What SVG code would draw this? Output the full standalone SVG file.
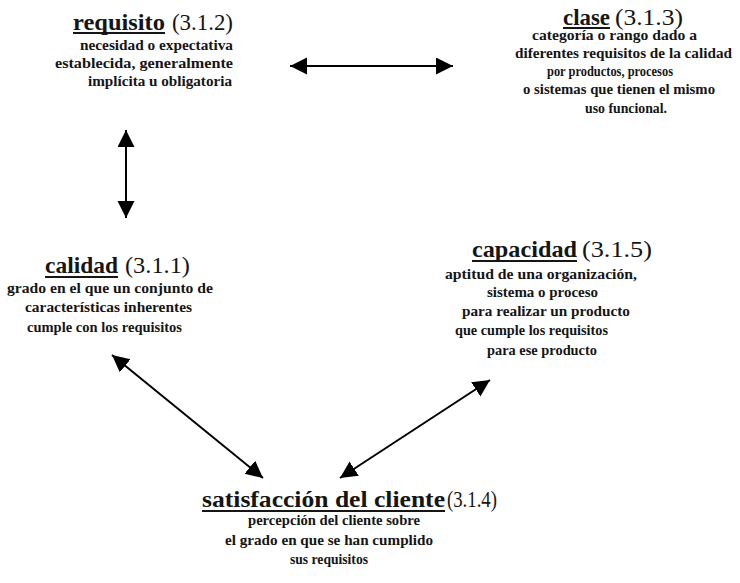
<svg xmlns="http://www.w3.org/2000/svg" width="740" height="583" viewBox="0 0 740 583">
  <style>
    text { font-family: "Liberation Serif", "Times New Roman", serif; fill: #151515; }
    .name { font-size: 24px; font-weight: bold; }
    .ref { font-size: 23px; font-weight: normal; }
    .body { font-size: 15px; font-weight: bold; }
    .ul { stroke: #151515; stroke-width: 2; }
    .link { stroke: #000; stroke-width: 2; fill: none; marker-start: url(#head); marker-end: url(#head); }
  </style>
  <defs>
    <marker id="head" markerUnits="userSpaceOnUse" markerWidth="18" markerHeight="18" refX="17" refY="8.5" orient="auto-start-reverse" viewBox="0 0 18 18">
      <path d="M0,0 L17,8.5 L0,17 Z" fill="#000"/>
    </marker>
  </defs>
  <rect width="740" height="583" fill="#fff"/>

  <!-- requisito -->
  <g id="requisito">
    <text class="name" x="73" y="30" textLength="92" lengthAdjust="spacingAndGlyphs">requisito</text>
    <line class="ul" x1="73" y1="33" x2="165" y2="33"/>
    <text class="ref" x="172" y="30" textLength="61" lengthAdjust="spacingAndGlyphs">(3.1.2)</text>
    <text class="body" x="80" y="50" textLength="153" lengthAdjust="spacingAndGlyphs">necesidad o expectativa</text>
    <text class="body" x="55" y="68" textLength="178" lengthAdjust="spacingAndGlyphs">establecida, generalmente</text>
    <text class="body" x="88" y="86" textLength="144" lengthAdjust="spacingAndGlyphs">implícita u obligatoria</text>
  </g>

  <!-- clase -->
  <g id="clase">
    <text class="name" x="563" y="25" textLength="47" lengthAdjust="spacingAndGlyphs">clase</text>
    <line class="ul" x1="563" y1="28" x2="610" y2="28"/>
    <text class="ref" x="615" y="25" textLength="68" lengthAdjust="spacingAndGlyphs">(3.1.3)</text>
    <text class="body" x="532" y="40" textLength="165" lengthAdjust="spacingAndGlyphs">categoría o rango dado a</text>
    <text class="body" x="515" y="58" textLength="217" lengthAdjust="spacingAndGlyphs">diferentes requisitos de la calidad</text>
    <text class="body" x="547" y="76" textLength="126" lengthAdjust="spacingAndGlyphs">por productos, procesos</text>
    <text class="body" x="523" y="94" textLength="192" lengthAdjust="spacingAndGlyphs">o sistemas que tienen el mismo</text>
    <text class="body" x="585" y="113" textLength="82" lengthAdjust="spacingAndGlyphs">uso funcional.</text>
  </g>

  <!-- calidad -->
  <g id="calidad">
    <text class="name" x="45" y="273" textLength="73" lengthAdjust="spacingAndGlyphs">calidad</text>
    <line class="ul" x1="45" y1="277" x2="118" y2="277"/>
    <text class="ref" x="125" y="273" textLength="65" lengthAdjust="spacingAndGlyphs">(3.1.1)</text>
    <text class="body" x="7" y="293" textLength="206" lengthAdjust="spacingAndGlyphs">grado en el que un conjunto de</text>
    <text class="body" x="25" y="312" textLength="167" lengthAdjust="spacingAndGlyphs">características inherentes</text>
    <text class="body" x="27" y="332" textLength="155" lengthAdjust="spacingAndGlyphs">cumple con los requisitos</text>
  </g>

  <!-- capacidad -->
  <g id="capacidad">
    <text class="name" x="472" y="257" textLength="105" lengthAdjust="spacingAndGlyphs">capacidad</text>
    <line class="ul" x1="472" y1="261" x2="577" y2="261"/>
    <text class="ref" x="582" y="257" textLength="70" lengthAdjust="spacingAndGlyphs">(3.1.5)</text>
    <text class="body" x="445" y="279" textLength="192" lengthAdjust="spacingAndGlyphs">aptitud de una organización,</text>
    <text class="body" x="487" y="297" textLength="111" lengthAdjust="spacingAndGlyphs">sistema o proceso</text>
    <text class="body" x="462" y="316" textLength="168" lengthAdjust="spacingAndGlyphs">para realizar un producto</text>
    <text class="body" x="455" y="335" textLength="153" lengthAdjust="spacingAndGlyphs">que cumple los requisitos</text>
    <text class="body" x="487" y="355" textLength="110" lengthAdjust="spacingAndGlyphs">para ese producto</text>
  </g>

  <!-- satisfacción del cliente -->
  <g id="satisfaccion">
    <text class="name" x="202" y="507" textLength="243" lengthAdjust="spacingAndGlyphs">satisfacción del cliente</text>
    <line class="ul" x1="202" y1="511" x2="445" y2="511"/>
    <text class="ref" x="447" y="507" textLength="50" lengthAdjust="spacingAndGlyphs">(3.1.4)</text>
    <text class="body" x="248" y="525" textLength="172" lengthAdjust="spacingAndGlyphs">percepción del cliente sobre</text>
    <text class="body" x="225" y="545" textLength="208" lengthAdjust="spacingAndGlyphs">el grado en que se han cumplido</text>
    <text class="body" x="290" y="564" textLength="78" lengthAdjust="spacingAndGlyphs">sus requisitos</text>
  </g>

  <!-- two-way relations -->
  <g id="connectors">
    <line class="link" x1="290" y1="66" x2="453" y2="66"/>
    <line class="link" x1="126" y1="130" x2="126" y2="218"/>
    <line class="link" x1="112" y1="355" x2="263" y2="478"/>
    <line class="link" x1="340" y1="478" x2="490" y2="380"/>
  </g>
</svg>
